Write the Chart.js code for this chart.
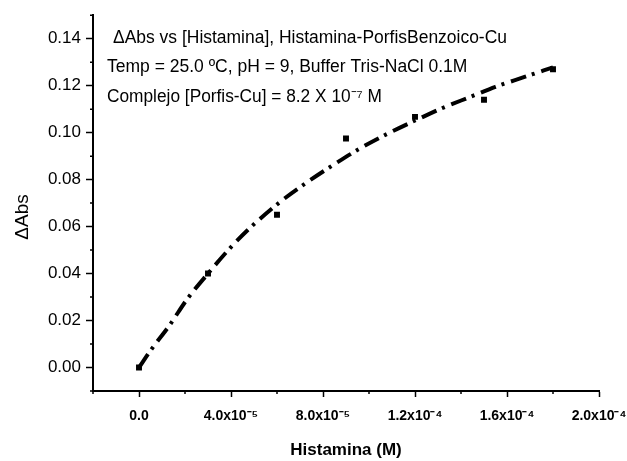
<!DOCTYPE html>
<html>
<head>
<meta charset="utf-8">
<script src="https://cdn.jsdelivr.net/npm/chart.js@4.4.1/dist/chart.umd.min.js"></script>
<style>
  html, body { margin: 0; padding: 0; background: #fff; }
  #wrap { width: 627px; height: 461px; }
</style>
</head>
<body>
<div id="wrap"><canvas id="abs_chart"></canvas></div>
<script>
// Measured points (black squares).
const histamina = [0, 3.0e-5, 6.0e-5, 9.0e-5, 1.2e-4, 1.5e-4, 1.8e-4];
const deltaAbs = [0, 0.040, 0.065, 0.0975, 0.1067, 0.114, 0.127];

// Fitted curve (dash-dot line).
const fitX = [0, 0.5e-5, 1.35e-5, 2.1e-5, 3.0e-5, 4.0e-5, 4.8e-5, 6.2e-5, 7.4e-5,
    8.6e-5, 9.7e-5, 1.09e-4, 1.23e-4, 1.32e-4, 1.44e-4, 1.55e-4, 1.67e-4, 1.8e-4];
const fitY = [0, 0.0072, 0.0183, 0.0292, 0.0400, 0.0513, 0.0592, 0.0710, 0.0795,
    0.0872, 0.0938, 0.1000, 0.1065, 0.1105, 0.1152, 0.1195, 0.1235, 0.1278];

// Axis ticks.
const xTicks = [0, 4e-5, 8e-5, 1.2e-4, 1.6e-4, 2e-4];
const xTickLabels = ['0.0', '4.0x10\u207B\u2075', '8.0x10\u207B\u2075',
    '1.2x10\u207B\u2074', '1.6x10\u207B\u2074', '2.0x10\u207B\u2074'];
const xMinor = [-2e-5, 2e-5, 6e-5, 1e-4, 1.4e-4, 1.8e-4];
const yTicks = [0, 0.02, 0.04, 0.06, 0.08, 0.10, 0.12, 0.14];
const yTickLabels = ['0.00', '0.02', '0.04', '0.06', '0.08', '0.10', '0.12', '0.14'];
const yMinor = [-0.01, 0.01, 0.03, 0.05, 0.07, 0.09, 0.11, 0.13, 0.15];

// Text block inside the plot.
const notes = [
    '\u0394Abs vs [Histamina], Histamina-PorfisBenzoico-Cu',
    'Temp = 25.0 \u00BAC, pH = 9, Buffer Tris-NaCl 0.1M',
    'Complejo [Porfis-Cu] = 8.2 X 10\u207B\u2077 M'
];

const FONT = '"Liberation Sans", Arial, sans-serif';

// Minor ticks, the text block and the y title.
const extras = {
    id: 'extras',
    afterDraw(chart) {
        const ctx = chart.ctx;
        const x = chart.scales.x, y = chart.scales.y;
        ctx.save();
        ctx.strokeStyle = '#000';
        ctx.lineWidth = 1.5;
        ctx.beginPath();
        xMinor.forEach(v => {
            const px = x.getPixelForValue(v);
            ctx.moveTo(px, y.bottom);
            ctx.lineTo(px, y.bottom + 3);
        });
        yMinor.forEach(v => {
            const py = y.getPixelForValue(v);
            ctx.moveTo(x.left, py);
            ctx.lineTo(x.left - 3, py);
        });
        ctx.stroke();

        ctx.fillStyle = '#000';
        ctx.textBaseline = 'alphabetic';
        ctx.font = '17.5px ' + FONT;
        ctx.fillText(notes[0], 113, 43, 394);
        ctx.fillText(notes[1], 107, 72, 361);
        ctx.fillText(notes[2], 107, 102, 275);

        ctx.translate(23, 217);
        ctx.rotate(-Math.PI / 2);
        ctx.textAlign = 'center';
        ctx.textBaseline = 'middle';
        ctx.font = '19px ' + FONT;
        ctx.fillText('\u0394Abs', 0, 0);
        ctx.restore();
    }
};

new Chart(document.getElementById('abs_chart'), {
    type: 'scatter',
    data: {
        datasets: [
            {
                // Fit curve.
                type: 'line',
                data: fitX.map((v, i) => ({x: v, y: fitY[i]})),
                borderColor: '#000',
                borderWidth: 4,
                borderDash: [16, 6, 3, 7],
                borderCapStyle: 'butt',
                cubicInterpolationMode: 'monotone',
                pointRadius: 0,
                fill: false
            },
            {
                // Measured points.
                data: histamina.map((v, i) => ({x: v, y: deltaAbs[i]})),
                pointStyle: 'rect',
                pointRadius: 4.2,
                backgroundColor: '#000',
                borderColor: '#000',
                borderWidth: 0
            }
        ]
    },
    options: {
        responsive: true,
        maintainAspectRatio: false,
        animation: false,
        layout: {
            padding: {top: 9, right: 0, left: 0, bottom: 0}
        },
        plugins: {
            legend: {display: false},
            tooltip: {enabled: false}
        },
        scales: {
            x: {
                type: 'linear',
                min: -2e-5,
                max: 2e-4,
                afterBuildTicks: (scale) => {
                    scale.ticks = xTicks.map(v => ({value: v}));
                },
                afterFit: (scale) => {
                    scale.height = 70;
                    // Leave 28px right of the plot for the last label.
                    scale.paddingLeft = 0;
                    scale.paddingRight = 28;
                },
                ticks: {
                    color: '#000',
                    font: {family: FONT, size: 14, weight: 'bold'},
                    padding: 11,
                    maxRotation: 0,
                    callback: (value) => {
                        const i = xTicks.findIndex(t => Math.abs(t - value) < 1e-9);
                        return i >= 0 ? xTickLabels[i] : '';
                    }
                },
                grid: {
                    drawOnChartArea: false,
                    tickLength: 6,
                    tickColor: '#000',
                    tickWidth: 1.5
                },
                border: {color: '#000', width: 2},
                title: {
                    display: true,
                    text: 'Histamina (M)',
                    color: '#000',
                    font: {family: FONT, size: 17, weight: 'bold'},
                    padding: {top: 0, bottom: 0}
                }
            },
            y: {
                type: 'linear',
                min: -0.01,
                max: 0.15,
                afterBuildTicks: (scale) => {
                    scale.ticks = yTicks.map(v => ({value: v}));
                },
                afterFit: (scale) => {
                    scale.width = 93;
                },
                ticks: {
                    color: '#000',
                    font: {family: FONT, size: 17},
                    padding: 5,
                    callback: (value) => {
                        const i = yTicks.findIndex(t => Math.abs(t - value) < 1e-9);
                        return i >= 0 ? yTickLabels[i] : '';
                    }
                },
                grid: {
                    drawOnChartArea: false,
                    tickLength: 7,
                    tickColor: '#000',
                    tickWidth: 1.5
                },
                border: {color: '#000', width: 2}
            }
        }
    },
    plugins: [extras]
});
</script>
</body>
</html>
